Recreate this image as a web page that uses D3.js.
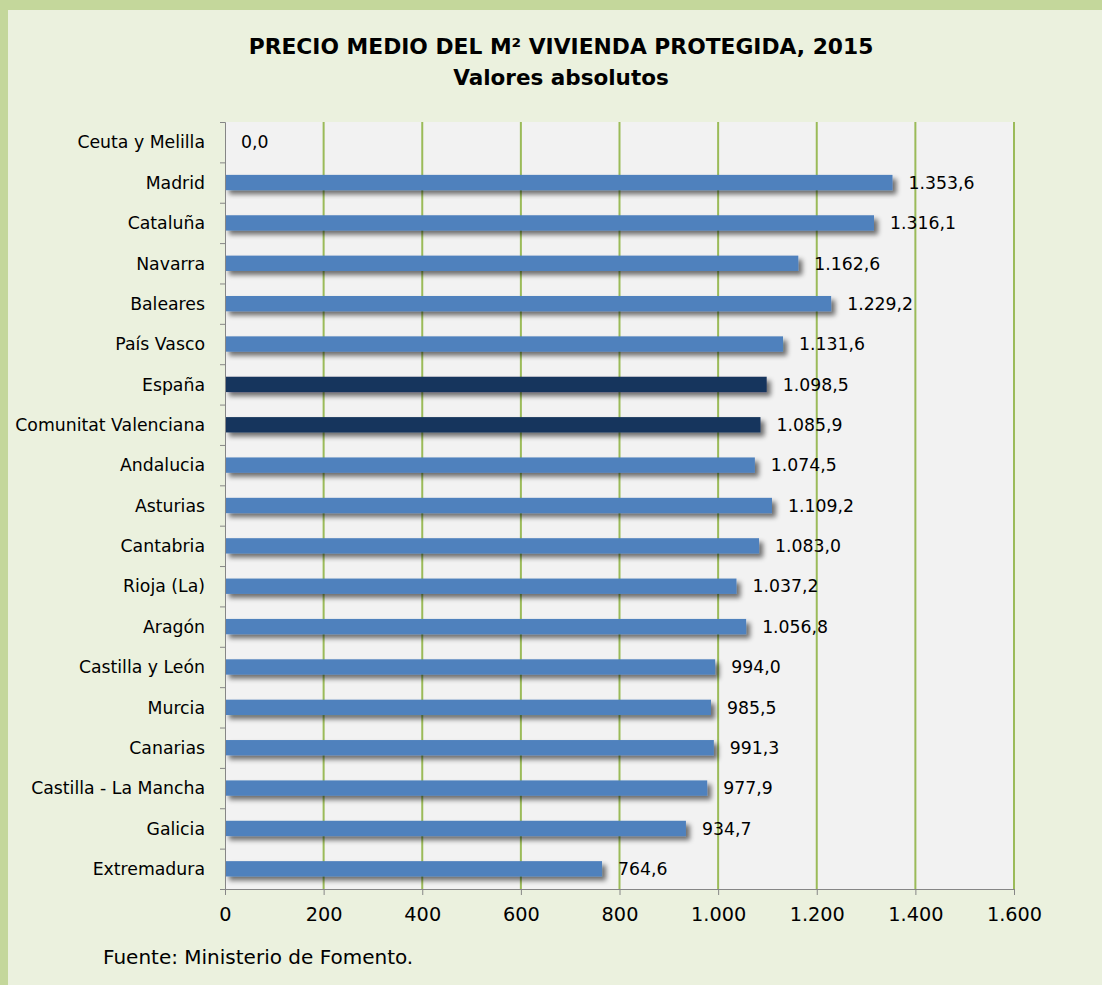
<!DOCTYPE html>
<html><head><meta charset="utf-8">
<script src="https://cdn.jsdelivr.net/npm/d3@7"></script>
<style>body{margin:0;background:#c4d79b;} svg{display:block}</style>
</head><body>
<svg id="c" width="1102" height="985"></svg>
<script>
const categories = ["Ceuta y Melilla","Madrid","Cataluña","Navarra","Baleares","País Vasco","España","Comunitat Valenciana","Andalucia","Asturias","Cantabria","Rioja (La)","Aragón","Castilla y León","Murcia","Canarias","Castilla - La Mancha","Galicia","Extremadura"];
const values = [0.0,1353.6,1316.1,1162.6,1229.2,1131.6,1098.5,1085.9,1074.5,1109.2,1083.0,1037.2,1056.8,994.0,985.5,991.3,977.9,934.7,764.6];
const highlighted = ["España","Comunitat Valenciana"];
const xTicks = [0,200,400,600,800,1000,1200,1400,1600];
const title1 = "PRECIO MEDIO DEL M² VIVIENDA PROTEGIDA, 2015";
const title2 = "Valores absolutos";
const source = "Fuente: Ministerio de Fomento.";

const svg = d3.select("#c");
const fmt = v => {
  const s = v.toFixed(1).split(".");
  return s[0].replace(/\B(?=(\d{3})+(?!\d))/g, ".") + "," + s[1];
};
const fmtTick = v => String(v).replace(/\B(?=(\d{3})+(?!\d))/g, ".");

// background
svg.append("rect").attr("x",0).attr("y",0).attr("width",1102).attr("height",985).attr("fill","#c4d79b");
svg.append("rect").attr("x",8).attr("y",10).attr("width",1094).attr("height",975).attr("fill","#ebf1de");

const defs = svg.append("defs");
const f = defs.append("filter").attr("id","sh").attr("x","-5%").attr("y","-50%").attr("width","115%").attr("height","250%");
f.append("feGaussianBlur").attr("in","SourceAlpha").attr("stdDeviation",2.5).attr("result","b");
f.append("feOffset").attr("in","b").attr("dx",4).attr("dy",4).attr("result","o");
f.append("feComponentTransfer").attr("in","o").attr("result","o2").append("feFuncA").attr("type","linear").attr("slope",0.55);
const m = f.append("feMerge"); m.append("feMergeNode").attr("in","o2"); m.append("feMergeNode").attr("in","SourceGraphic");

const L = 225, R = 1014, T = 122, B = 889;
const x = d3.scaleLinear().domain([0,1600]).range([L,R]);
const y = d3.scaleBand().domain(categories).range([T,B]).paddingInner(0.62).paddingOuter(0.31);

svg.append("rect").attr("x",L).attr("y",T).attr("width",R-L).attr("height",B-T).attr("fill","#f2f2f2");

// grid
svg.append("g").selectAll("line").data(xTicks.slice(1)).join("line")
  .attr("x1",d=>x(d)).attr("x2",d=>x(d)).attr("y1",T).attr("y2",B)
  .attr("stroke","#9bbb59").attr("stroke-width",2);

// bars
svg.append("g").selectAll("rect").data(categories).join("rect")
  .attr("x",L).attr("y",d=>y(d)).attr("height",y.bandwidth())
  .attr("width",(d,i)=>x(values[i])-L)
  .attr("fill",d=>highlighted.includes(d)?"#17365d":"#4f81bd")
  .attr("filter",(d,i)=>values[i]>0?"url(#sh)":null);

// value labels
svg.append("g").selectAll("text").data(categories).join("text")
  .attr("x",(d,i)=>x(values[i])+16).attr("y",d=>y(d)+y.bandwidth()/2)
  .attr("dy","0.36em").attr("font-family","DejaVu Sans").attr("font-size",17.3).attr("fill","#000")
  .text((d,i)=>fmt(values[i]));

// y axis
const yAxis = d3.axisLeft(d3.scaleLinear().domain([0,categories.length]).range([T,B]))
  .tickValues(d3.range(0,categories.length+1)).tickSize(5).tickFormat("");
const ya = svg.append("g").attr("transform",`translate(${L},0)`).call(yAxis);
ya.selectAll("line,path").attr("stroke","#868686");
svg.append("g").selectAll("text").data(categories).join("text")
  .attr("x",L-20).attr("y",d=>y(d)+y.bandwidth()/2).attr("dy","0.36em")
  .attr("text-anchor","end").attr("font-family","DejaVu Sans").attr("font-size",17.3).attr("fill","#000")
  .text(d=>d);

// x axis
const xa = svg.append("g").attr("transform",`translate(0,${B})`)
  .call(d3.axisBottom(x).tickValues(xTicks).tickSize(6).tickSizeOuter(0).tickFormat(fmtTick));
xa.selectAll("line,path").attr("stroke","#868686");
xa.selectAll("text").attr("font-family","DejaVu Sans").attr("font-size",19.3).attr("fill","#000").attr("dy","1.2em");

// titles
svg.append("text").attr("x",561).attr("y",54).attr("text-anchor","middle")
  .attr("font-family","DejaVu Sans").attr("font-weight","bold").attr("font-size",21.8).text(title1);
svg.append("text").attr("x",561).attr("y",85).attr("text-anchor","middle")
  .attr("font-family","DejaVu Sans").attr("font-weight","bold").attr("font-size",21.5).text(title2);

svg.append("text").attr("x",103).attr("y",964).attr("font-family","DejaVu Sans").attr("font-size",20).text(source);
</script>
</body></html>
